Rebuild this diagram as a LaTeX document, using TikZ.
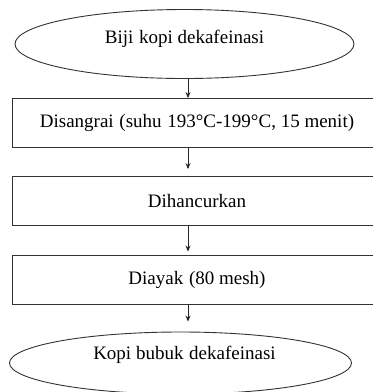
\documentclass[tikz,border=0pt]{standalone}
\usepackage{fontspec}
\setmainfont{Liberation Serif}
\usetikzlibrary{shapes.geometric,arrows.meta}
\tikzset{
  ell/.style={draw=black!80, line width=0.9pt, ellipse, inner sep=0pt},
  box/.style={draw=black!80, line width=0.9pt, rectangle, inner sep=0pt, minimum width=370pt, minimum height=49pt, font=\fontsize{19}{22}\selectfont},
  txt/.style={inner sep=0pt, font=\fontsize{19}{22}\selectfont},
  arr/.style={draw=black!85, line width=0.9pt, -{Stealth[length=6pt,width=5pt]}}
}
\newcommand{\wsp}{\hspace{0.3em}}
\begin{document}
\begin{tikzpicture}[x=1pt,y=-1pt]
\useasboundingbox (0,0) rectangle (373,392);
\clip (0,0) rectangle (373,392);
\fill[white] (0,0) rectangle (373,392);
\coordinate (ax) at (188,0);
\node[ell, minimum width=339pt, minimum height=69pt] (e1) at (184.5,44) {};
\node[txt, anchor=base] (t1) at (184.5,43) {Biji\wsp kopi dekafeinasi};
\node[box] (b1) at (197,123) {Disangrai\wsp (suhu\wsp 193°C-199°C, 15 menit)};
\node[box] (b2) at (197,201) {Dihancurkan};
\node[box] (b3) at (197,279.5) {Diayak\wsp (80 mesh)};
\node[ell, minimum width=342pt, minimum height=62pt] (e2) at (180.5,363) {};
\node[txt, anchor=base] (t2) at (184.5,359) {Kopi bubuk\wsp dekafeinasi};
\draw[arr] (e1.south -| ax) -- (b1.north -| ax);
\draw[arr, shorten >=7pt] (b1.south -| ax) -- (b2.north -| ax);
\draw[arr, shorten >=3pt] (b2.south -| ax) -- (b3.north -| ax);
\draw[arr, shorten >=10pt] (b3.south -| ax) -- (e2.north -| ax);
\end{tikzpicture}
\end{document}
